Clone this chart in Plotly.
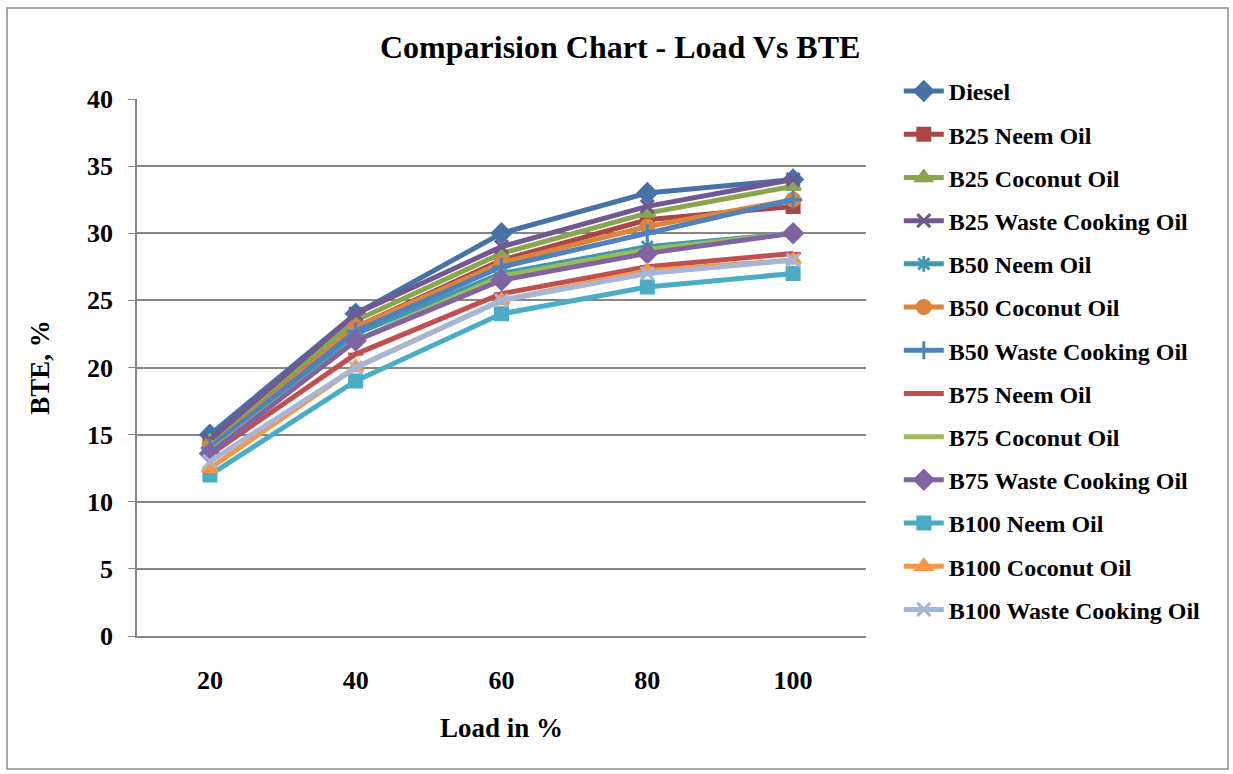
import plotly.graph_objects as go

# Engine load (%) on the x axis
loads = ["20", "40", "60", "80", "100"]

# Brake thermal efficiency (%) for each fuel
diesel      = [15.0, 24.0, 30.0, 33.0, 34.0]
b25_neem    = [14.2, 23.0, 28.0, 31.0, 32.0]
b25_coconut = [14.5, 23.5, 28.5, 31.5, 33.5]
b25_wco     = [14.6, 24.0, 29.0, 32.0, 34.0]
b50_neem    = [13.8, 22.5, 27.0, 29.0, 30.0]
b50_coconut = [14.0, 23.0, 27.8, 30.5, 32.5]
b50_wco     = [14.0, 22.7, 27.5, 30.0, 32.5]
b75_neem    = [13.5, 21.0, 25.5, 27.5, 28.5]
b75_coconut = [13.7, 22.0, 26.8, 28.8, 30.0]
b75_wco     = [13.6, 22.0, 26.5, 28.5, 30.0]
b100_neem   = [12.0, 19.0, 24.0, 26.0, 27.0]
b100_coconut= [12.5, 20.0, 25.0, 27.2, 28.0]
b100_wco    = [13.0, 20.0, 25.0, 27.0, 28.0]

series = [
    ("Diesel", diesel, "#4572A7", "diamond", 14),
    ("B25 Neem Oil", b25_neem, "#AA4643", "square", 12),
    ("B25 Coconut Oil", b25_coconut, "#89A54E", "triangle-up", 13),
    ("B25 Waste Cooking Oil", b25_wco, "#71588F", "x-thin", 13),
    ("B50 Neem Oil", b50_neem, "#4198AF", "asterisk", 13),
    ("B50 Coconut Oil", b50_coconut, "#DB843D", "circle", 13),
    ("B50 Waste Cooking Oil", b50_wco, "#4F81BD", "cross-thin", 13),
    ("B75 Neem Oil", b75_neem, "#C0504D", "line-ew", 11),
    ("B75 Coconut Oil", b75_coconut, "#9BBB59", None, 0),
    ("B75 Waste Cooking Oil", b75_wco, "#8064A2", "diamond", 14),
    ("B100 Neem Oil", b100_neem, "#4BACC6", "square", 12),
    ("B100 Coconut Oil", b100_coconut, "#F79646", "triangle-up", 13),
    ("B100 Waste Cooking Oil", b100_wco, "#A5B6D8", "x-thin", 13),
]

fig = go.Figure()
for i, (name, vals, color, symbol, size) in enumerate(series):
    label = f"<b>{name}</b>"
    if symbol is None:
        fig.add_trace(go.Scatter(
            x=loads, y=vals, name=label, mode="lines",
            line=dict(color=color, width=5), legendgroup=f"g{i}",
        ))
    else:
        fig.add_trace(go.Scatter(
            x=loads, y=vals, name=label, mode="lines+markers",
            line=dict(color=color, width=5), legendgroup=f"g{i}",
            marker=dict(symbol=symbol, size=size, color=color,
                        line=dict(color=color, width=3)),
        ))

font_family = "Liberation Serif"

fig.update_layout(
    width=1233, height=774,
    paper_bgcolor="white", plot_bgcolor="white",
    margin=dict(l=137, r=367, t=99, b=138),
    font=dict(family=font_family, color="black"),
    title=dict(text="<b>Comparision Chart - Load Vs BTE</b>",
               x=0.503, xanchor="center", xref="container",
               y=0.94, yanchor="middle", yref="container",
               font=dict(size=32, family=font_family, color="black")),
    legend=dict(x=1.045, xanchor="left", y=1.056, yanchor="top",
                font=dict(size=24, family=font_family, color="black"),
                tracegroupgap=9, bgcolor="rgba(0,0,0,0)",
                itemwidth=40, maxheight=700),
    showlegend=True,
)

fig.update_xaxes(
    type="category", range=[-0.5, 4.5],
    showgrid=False, showline=True, linecolor="#868686", linewidth=1.5,
    ticks="", tickfont=dict(size=26, family=font_family, color="black"),
    tickprefix="<b>", ticksuffix="</b>",
    ticklabelstandoff=20,
    title=dict(text="<b>Load in %</b>", standoff=24,
               font=dict(size=27, family=font_family, color="black")),
    fixedrange=True,
)
fig.update_yaxes(
    range=[0, 40], dtick=5,
    showgrid=True, gridcolor="#868686", gridwidth=1.5,
    showline=True, linecolor="#868686", linewidth=1.5,
    ticks="outside", ticklen=7, tickcolor="#868686",
    tickfont=dict(size=26, family=font_family, color="black"),
    tickprefix="<b>", ticksuffix="</b>",
    ticklabelstandoff=10,
    zeroline=False,
    title=dict(text="<b>BTE, %</b>", standoff=30,
               font=dict(size=27, family=font_family, color="black")),
    fixedrange=True,
)

# Outer chart frame
fig.add_shape(type="rect", xref="paper", yref="paper",
              x0=(7 - 137) / 729, x1=(1228 - 137) / 729,
              y0=(636 - 769) / 537, y1=(636 - 8) / 537,
              line=dict(color="#8c8c8c", width=1.5), fillcolor="rgba(0,0,0,0)",
              layer="below")

fig.write_html("out.html")
